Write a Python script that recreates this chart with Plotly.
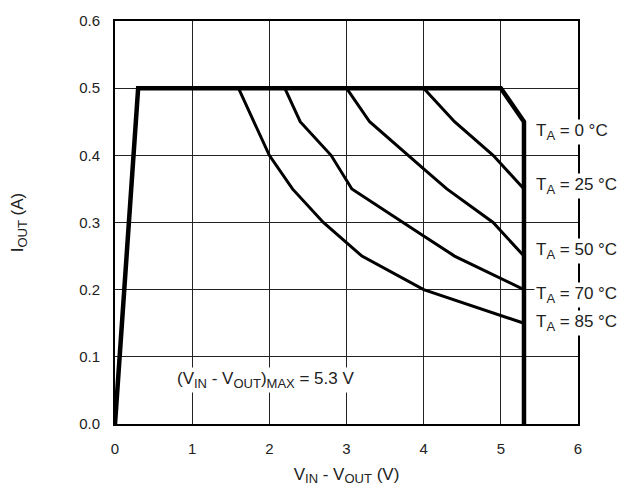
import plotly.graph_objects as go

# Envelope (T_A = 0 °C) and temperature-limited curves
env_x = [0, 0.3, 5.0, 5.3, 5.3]
env_y = [0, 0.5, 0.5, 0.45, 0.0]

t25_x = [4.0, 4.4, 4.9, 5.3]
t25_y = [0.5, 0.45, 0.40, 0.35]

t50_x = [3.0, 3.3, 4.0, 4.3, 4.9, 5.3]
t50_y = [0.5, 0.45, 0.38, 0.35, 0.30, 0.25]

t70_x = [2.2, 2.4, 2.8, 3.07, 4.0, 4.4, 5.3]
t70_y = [0.5, 0.45, 0.40, 0.35, 0.28, 0.25, 0.20]

t85_x = [1.6, 2.0, 2.3, 2.7, 3.2, 4.0, 5.3]
t85_y = [0.5, 0.40, 0.35, 0.30, 0.25, 0.20, 0.15]


def sub(s, px=13):
    return "<sub><span style='font-size:%dpx'>%s</span></sub>" % (px, s)


temps = ["0", "25", "50", "70", "85"]
labels = ["T" + sub("A") + " = %s °C" % t for t in temps]
label_y = [0.435, 0.355, 0.258, 0.192, 0.151]
label_x = 5.43

x_ticks = [0, 1, 2, 3, 4, 5, 6]
y_ticks = [0.0, 0.1, 0.2, 0.3, 0.4, 0.5, 0.6]

fig = go.Figure()
for xs, ys in [(t25_x, t25_y), (t50_x, t50_y), (t70_x, t70_y), (t85_x, t85_y)]:
    fig.add_trace(go.Scatter(x=xs, y=ys, mode="lines",
                             line=dict(color="black", width=3), showlegend=False,
                             hoverinfo="skip"))
fig.add_trace(go.Scatter(x=env_x, y=env_y, mode="lines",
                         line=dict(color="black", width=4.5), showlegend=False,
                         hoverinfo="skip"))

font_main = dict(family="Liberation Sans, Arial, sans-serif", size=17, color="#222")
font_tick = dict(family="Liberation Sans, Arial, sans-serif", size=15, color="#222")

for t, ly in zip(labels, label_y):
    fig.add_annotation(x=label_x, y=ly, xref="x", yref="y", text=t, showarrow=False,
                       xanchor="left", yanchor="middle", bgcolor="white",
                       font=font_main, borderpad=1)

fig.add_annotation(x=0.78, y=0.065, xref="x", yref="y",
                   text="(V" + sub("IN") + " - V" + sub("OUT") + ")" + sub("MAX") + " = 5.3 V",
                   showarrow=False, xanchor="left", yanchor="middle", bgcolor="white",
                   font=font_main, borderpad=1)

fig.update_layout(
    width=629, height=486,
    margin=dict(l=107, r=59, t=13, b=70, autoexpand=False),
    plot_bgcolor="white", paper_bgcolor="white",
    font=font_tick,
    xaxis=dict(range=[0, 6], tickvals=x_ticks, ticktext=[str(v) for v in x_ticks],
               showgrid=True, gridcolor="#222", gridwidth=1, zeroline=False,
               showline=True, linecolor="black", linewidth=2, mirror=True,
               ticks="", ticklabelstandoff=10, tickfont=font_tick, automargin=False,
               title=dict(text="V" + sub("IN") + " - V" + sub("OUT") + " (V)", standoff=12,
                          font=font_main)),
    yaxis=dict(range=[0, 0.6], tickvals=y_ticks, ticktext=["%.1f" % v for v in y_ticks],
               showgrid=True, gridcolor="#222", gridwidth=1, zeroline=False,
               showline=True, linecolor="black", linewidth=2, mirror=True,
               ticks="", ticklabelstandoff=10, tickfont=font_tick, automargin=False,
               title=dict(text="I" + sub("OUT") + " (A)", standoff=56, font=font_main)),
)

fig.write_html("out.html")
